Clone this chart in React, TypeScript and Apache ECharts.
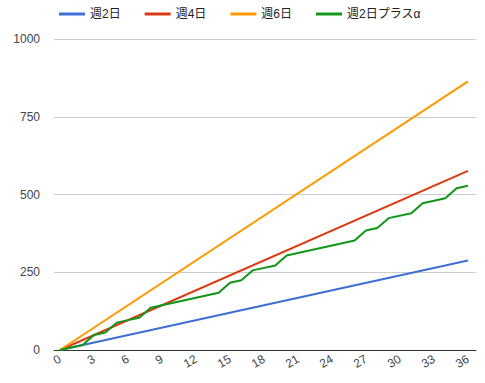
import React, { useEffect, useRef } from "react";
import * as echarts from "echarts";

const seriesNames = ["週2日", "週4日", "週6日", "週2日プラスα"];
const colors = ["#3c6fd6", "#dc3912", "#ff9900", "#109618"];

const days2: number[] = [0, 36];
const vals2: number[] = [0, 288];
const days4: number[] = [0, 36];
const vals4: number[] = [0, 576];
const days6: number[] = [0, 36];
const vals6: number[] = [0, 864];
const daysPlus: number[] = [0, 2, 3, 4, 5, 6, 7, 8, 9, 14, 15, 16, 17, 19, 20, 26, 27, 28, 29, 31, 32, 34, 35, 36];
const valsPlus: number[] = [0, 16, 48, 56, 88, 96, 104, 136, 144, 184, 216, 224, 256, 272, 304, 352, 384, 392, 424, 440, 472, 488, 520, 528];

const xTicks: number[] = [0, 3, 6, 9, 12, 15, 18, 21, 24, 27, 30, 33, 36];
const yTicks: number[] = [0, 250, 500, 750, 1000];

const zip = (xs: number[], ys: number[]) => xs.map((x, i) => [x, ys[i]]);

export default function App() {
  const ref = useRef<HTMLDivElement>(null);
  useEffect(() => {
    if (!ref.current) return;
    const chart = echarts.init(ref.current, undefined, { renderer: "svg" });
    const font = "Arial, 'Liberation Sans', 'Noto Sans CJK JP', sans-serif";
    const data = [zip(days2, vals2), zip(days4, vals4), zip(days6, vals6), zip(daysPlus, valsPlus)];
    chart.setOption({
      animation: false,
      textStyle: { fontFamily: font },
      legend: {
        left: 54,
        top: 3,
        itemWidth: 26,
        itemHeight: 3,
        itemGap: 24,
        icon: "rect",
        textStyle: { fontSize: 12, color: "#222", fontFamily: font },
        data: seriesNames,
      },
      grid: { left: 54, right: 9, top: 39, bottom: 33, containLabel: false },
      xAxis: {
        type: "value",
        min: -0.53,
        max: 36.71,
        splitLine: { show: false },
        axisTick: { show: false },
        axisLine: { show: true, lineStyle: { color: "#333", width: 1 } },
        axisLabel: {
          customValues: xTicks,
          rotate: 30,
          margin: 8,
          fontSize: 12,
          color: "#444",
          fontFamily: font,
          formatter: (v: number) => String(v),
        },
      },
      yAxis: {
        type: "value",
        min: yTicks[0],
        max: yTicks[yTicks.length - 1],
        interval: 250,
        axisLine: { show: false },
        axisTick: { show: false },
        splitLine: { show: true, lineStyle: { color: "#cccccc", width: 1 } },
        axisLabel: {
          margin: 14,
          fontSize: 12,
          color: "#444",
          fontFamily: font,
          formatter: (v: number) => String(v),
        },
      },
      series: seriesNames.map((name, i) => ({
        name,
        type: "line",
        data: data[i],
        showSymbol: false,
        symbol: "none",
        color: colors[i],
        lineStyle: { width: 2, color: colors[i] },
        z: 2 + i,
      })),
    });
    return () => chart.dispose();
  }, []);
  return <div ref={ref} style={{ width: 485, height: 383, position: "absolute", left: 0, top: 0 }} />;
}
